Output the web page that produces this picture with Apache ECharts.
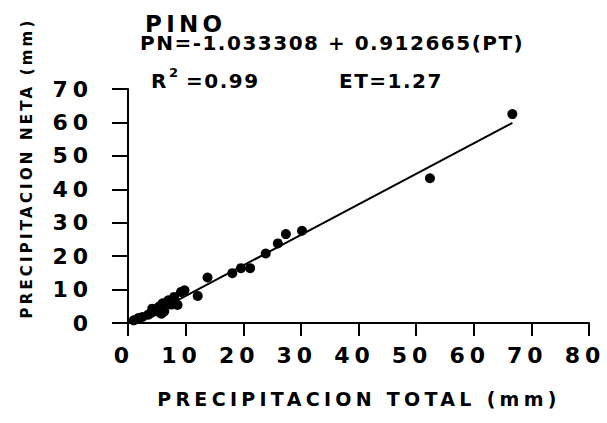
<!DOCTYPE html>
<html>
<head>
<meta charset="utf-8">
<script src="https://cdn.jsdelivr.net/npm/echarts@6/dist/echarts.min.js"></script>
<style>
  html, body { margin: 0; padding: 0; background: #fff; }
  #chart { width: 607px; height: 423px; background: #fff; }
  /* wide tracking of the lettering, keyed on each text size */
  #chart text[style*="22px"] { letter-spacing: 5px; }
  #chart text[style*="23px"] { letter-spacing: 4.3px; }
  #chart text[style*="20px"] { letter-spacing: 1.5px; }
  #chart text[style*="19px"] { letter-spacing: 4.3px; }
  #chart text[style*="15px"] { letter-spacing: 3.2px; }
</style>
</head>
<body>
<div id="chart"></div>
<script>
// Rainfall under pine canopy: total precipitation (PT) vs net precipitation (PN), mm
const totalPrecip = [1.0, 1.8, 2.5, 3.5, 4.0, 4.2, 5.0, 5.4, 5.8, 6.0, 6.3, 7.0, 7.5, 8.0, 8.6, 9.2, 9.8, 12.1, 13.8, 18.1, 19.6, 21.2, 23.9, 26.0, 27.4, 30.2, 52.4, 66.7];
const netPrecip   = [0.8, 1.5, 1.8, 2.5, 3.0, 4.3, 3.5, 4.9, 2.8, 5.9, 3.5, 6.8, 5.5, 7.8, 5.4, 9.3, 9.8, 8.1, 13.6, 14.9, 16.4, 16.4, 20.8, 23.8, 26.6, 27.6, 43.3, 62.5];

// Least-squares fit stated in the header
const fitIntercept = -1.033308;
const fitSlope = 0.912665;
const fitRange = [1.2, 66.7];

const xTicks = [0, 10, 20, 30, 40, 50, 60, 70, 80];
const yTicks = [0, 10, 20, 30, 40, 50, 60, 70];

const titleText = 'PINO';
const equationText = 'PN=-1.033308 + 0.912665(PT)';
const r2Value = '=0.99';
const etText = 'ET=1.27';
const xTitle = 'PRECIPITACION TOTAL (mm)';
const yTitle = 'PRECIPITACION NETA (mm)';

const FONT = 'DejaVu Sans';
const INK = '#000';

const points = totalPrecip.map((x, i) => [x, netPrecip[i]]);
const fitLine = fitRange.map(x => [x, fitIntercept + fitSlope * x]);

const labelStyle = { color: INK, fontFamily: FONT, fontWeight: 'bold', fontSize: 22 };

const chart = echarts.init(document.getElementById('chart'), null, { renderer: 'svg' });
chart.setOption({
  animation: false,
  grid: { left: 128, right: 18, top: 89, bottom: 100 },
  xAxis: {
    type: 'value',
    min: xTicks[0], max: xTicks[xTicks.length - 1], interval: xTicks[1] - xTicks[0],
    splitLine: { show: false },
    axisLine: { show: true, onZero: false, lineStyle: { color: INK, width: 2 } },
    axisTick: { show: true, length: 13, lineStyle: { color: INK, width: 2 } },
    axisLabel: Object.assign({}, labelStyle, { margin: 21, padding: [0, 8, 0, 0] })
  },
  yAxis: {
    type: 'value',
    min: yTicks[0], max: yTicks[yTicks.length - 1], interval: yTicks[1] - yTicks[0],
    splitLine: { show: false },
    axisLine: { show: true, onZero: false, lineStyle: { color: INK, width: 2 } },
    axisTick: { show: true, length: 16, lineStyle: { color: INK, width: 2 } },
    axisLabel: Object.assign({}, labelStyle, { margin: 35 })
  },
  graphic: [
    { type: 'text', x: 145, y: 24, style: { text: titleText, fill: INK, fontFamily: FONT, fontWeight: 'bold', fontSize: 23, textVerticalAlign: 'middle' } },
    { type: 'text', x: 140, y: 43, style: { text: equationText, fill: INK, fontFamily: FONT, fontWeight: 'bold', fontSize: 20, textVerticalAlign: 'middle' } },
    { type: 'text', x: 151, y: 81, style: { text: 'R', fill: INK, fontFamily: FONT, fontWeight: 'bold', fontSize: 20, textVerticalAlign: 'middle' } },
    { type: 'text', x: 169, y: 72, style: { text: '2', fill: INK, fontFamily: FONT, fontWeight: 'bold', fontSize: 13, textVerticalAlign: 'middle' } },
    { type: 'text', x: 186, y: 81, style: { text: r2Value, fill: INK, fontFamily: FONT, fontWeight: 'bold', fontSize: 20, textVerticalAlign: 'middle' } },
    { type: 'text', x: 339, y: 81, style: { text: etText, fill: INK, fontFamily: FONT, fontWeight: 'bold', fontSize: 20, textVerticalAlign: 'middle' } },
    { type: 'text', x: 359, y: 399, style: { text: xTitle, fill: INK, fontFamily: FONT, fontWeight: 'bold', fontSize: 19, textAlign: 'center', textVerticalAlign: 'middle' } },
    { type: 'text', x: 27, y: 168, rotation: Math.PI / 2, style: { text: yTitle, fill: INK, fontFamily: FONT, fontWeight: 'bold', fontSize: 15, textAlign: 'center', textVerticalAlign: 'middle' } }
  ],
  series: [
    {
      type: 'line', data: fitLine, symbol: 'none', silent: true, z: 2,
      lineStyle: { color: INK, width: 2 }
    },
    {
      type: 'scatter', data: points, symbol: 'circle', symbolSize: 10, z: 3,
      itemStyle: { color: INK, opacity: 1 }
    }
  ]
});
</script>
</body>
</html>
